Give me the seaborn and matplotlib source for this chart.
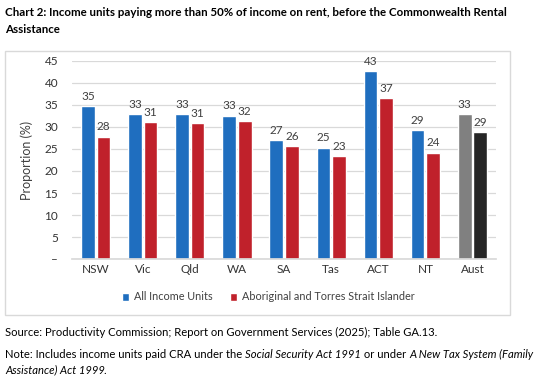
import pandas as pd
import matplotlib
matplotlib.use('Agg')
import matplotlib.pyplot as plt
import seaborn as sns
from matplotlib.patches import Rectangle, Patch

states = ['NSW', 'Vic', 'Qld', 'WA', 'SA', 'Tas', 'ACT', 'NT', 'Aust']
all_units = [34.8, 33.0, 33.0, 32.6, 27.0, 25.3, 42.6, 29.2, 33.0]
atsi_units = [27.8, 31.1, 30.8, 31.4, 25.6, 23.4, 36.6, 24.2, 28.8]
all_labels = [35, 33, 33, 33, 27, 25, 43, 29, 33]
atsi_labels = [28, 31, 31, 32, 26, 23, 37, 24, 29]
series_names = ['All Income Units', 'Aboriginal and Torres Strait Islander']
yticks = [0, 5, 10, 15, 20, 25, 30, 35, 40, 45]

sns.set_theme(style='white')
plt.rcParams['font.family'] = ['Lato', 'DejaVu Sans']

df = pd.DataFrame({
    'State': states * 2,
    'Value': all_units + atsi_units,
    'Series': [series_names[0]] * len(states) + [series_names[1]] * len(states),
})

blue = '#1F6EBF'
red = '#C0212B'
txt = '#404040'
W, H = 550, 376

fig = plt.figure(figsize=(5.5, 3.76), dpi=100)
ax = fig.add_axes([0.131, 0.311, 0.771, 0.527])

sns.barplot(data=df, x='State', y='Value', hue='Series', order=states,
            hue_order=series_names, palette=[blue, red], width=0.66, gap=0.12,
            saturation=1, legend=False, ax=ax)

# Aust bars in grey / black
bars_all = ax.containers[0]
bars_atsi = ax.containers[1]
bars_all[-1].set_facecolor('#808080')
bars_atsi[-1].set_facecolor('#262626')

ax.bar_label(bars_all, labels=[str(v) for v in all_labels], padding=3,
             fontsize=8.5, color=txt)
ax.bar_label(bars_atsi, labels=[str(v) for v in atsi_labels], padding=3,
             fontsize=8.5, color=txt)

ax.set_ylim(0, 45)
ax.set_xlim(-0.5, len(states) - 0.5)
ax.set_yticks(yticks)
ax.set_yticklabels(['–'] + [str(t) for t in yticks[1:]])
ax.yaxis.grid(True, color='#D9D9D9', linewidth=0.9)
ax.set_axisbelow(True)
for s in ['top', 'right', 'left']:
    ax.spines[s].set_visible(False)
ax.spines['bottom'].set_color('#D9D9D9')
ax.tick_params(axis='both', length=0, labelsize=8.5, labelcolor='#333333')
ax.tick_params(axis='y', pad=10)
ax.set_xlabel('')
ax.set_ylabel('Proportion (%)', fontsize=9, color=txt, labelpad=8)

# chart border box
fig.patches.append(Rectangle((5 / W, 1 - 315 / H), 505 / W, 264 / H,
                             transform=fig.transFigure, fill=False,
                             edgecolor='#D9D9D9', linewidth=1))

handles = [Patch(facecolor=blue), Patch(facecolor=red)]
fig.legend(handles, series_names, loc='center', bbox_to_anchor=(268 / W, 1 - 297 / H),
           ncol=2, frameon=False, fontsize=7.8, handlelength=0.7, handleheight=0.7,
           handletextpad=0.4, columnspacing=1.6, labelcolor=txt)

fig.canvas.draw()
r = fig.canvas.get_renderer()


def fit_size(s, target_px, weight='normal', base=10):
    t = fig.text(0, 0, s, fontsize=base, fontweight=weight)
    w = t.get_window_extent(r).width
    t.remove()
    return base * target_px / w


title1 = 'Chart 2: Income units paying more than 50% of income on rent, before the Commonwealth Rental'
ts = fit_size(title1, 502, 'bold')
fig.text(5 / W, 1 - 12 / H, title1, fontsize=ts, fontweight='bold', va='center', color='black')
fig.text(5 / W, 1 - 29.5 / H, 'Assistance', fontsize=ts, fontweight='bold',
         va='center', color='black')

source = 'Source: Productivity Commission; Report on Government Services (2025); Table GA.13.'
ss = fit_size(source, 436)
fig.text(5 / W, 1 - 332 / H, source, fontsize=ss, va='center', color='black')

# note line with italic act names
pieces = [('Note: Includes income units paid CRA under the ', 'normal'),
          ('Social Security Act 1991', 'italic'),
          (' or under ', 'normal'),
          ('A New Tax System (Family', 'italic')]
y_fig = 1 - 354 / H
x_px = 5
for s, st in pieces:
    t = fig.text(x_px / W, y_fig, s, fontsize=ss, style=st, va='center', color='black')
    x_px = t.get_window_extent(r).x1

y2 = 1 - 370 / H
t2 = fig.text(5 / W, y2, 'Assistance) Act 1999', fontsize=ss, style='italic',
              va='center', color='black')
x2 = t2.get_window_extent(r).x1 - 2
fig.text(x2 / W, y2, '.', fontsize=ss, va='center', color='black')

fig.savefig('out.png', dpi=100)
